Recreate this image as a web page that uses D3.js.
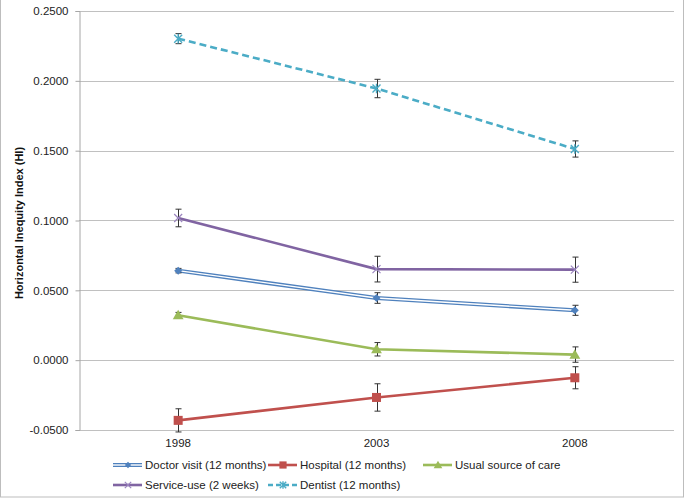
<!DOCTYPE html>
<html>
<head>
<meta charset="utf-8">
<script src="https://cdn.jsdelivr.net/npm/d3@7"></script>
<style>
  body { margin: 0; background: #fff; }
  svg { font-family: "Liberation Sans", Arial, sans-serif; }
</style>
</head>
<body>
<div id="chart"></div>
<script>
// data
const years = ['1998', '2003', '2008']
const yTicks = [-0.05, 0, 0.05, 0.1, 0.15, 0.2, 0.25]

const doctorVals = [0.0641, 0.0445, 0.0357]
const doctorErr = [0.0016, 0.0038, 0.0036]
const hospitalVals = [-0.0431, -0.0267, -0.0126]
const hospitalErr = [0.0083, 0.0098, 0.0079]
const usualVals = [0.0322, 0.0078, 0.0040]
const usualErr = [0.0020, 0.0048, 0.0055]
const serviceVals = [0.1018, 0.0652, 0.0648]
const serviceErr = [0.0063, 0.0092, 0.0090]
const dentistVals = [0.2302, 0.1945, 0.1512]
const dentistErr = [0.0036, 0.0066, 0.0058]

const seriesNames = ['Doctor visit (12 months)', 'Hospital (12 months)', 'Usual source of care',
	'Service-use (2 weeks)', 'Dentist (12 months)']

const series = [
	{name: seriesNames[0], vals: doctorVals, err: doctorErr, color: '#4F81BD', marker: 'diamond', double: true},
	{name: seriesNames[1], vals: hospitalVals, err: hospitalErr, color: '#C0504D', marker: 'square'},
	{name: seriesNames[2], vals: usualVals, err: usualErr, color: '#9BBB59', marker: 'triangle'},
	{name: seriesNames[3], vals: serviceVals, err: serviceErr, color: '#8064A2', marker: 'x'},
	{name: seriesNames[4], vals: dentistVals, err: dentistErr, color: '#4BACC6', marker: 'star', dash: '7,4'}
]

const W = 685, H = 500
const margin = {top: 11, right: 11, bottom: 70, left: 79}
const width = W - margin.left - margin.right
const height = H - margin.top - margin.bottom
const fs = 11.5

const svg = d3.select('#chart').append('svg')
	.attr('width', W)
	.attr('height', H)

// outer chart frame
svg.append('rect')
	.attr('x', 0.5).attr('y', -2)
	.attr('width', 683).attr('height', 499)
	.attr('fill', 'none')
	.attr('stroke', '#BDBDBD')

const g = svg.append('g')
	.attr('transform', `translate(${margin.left},${margin.top})`)

const x = d3.scaleBand().domain(years).range([0, width]).padding(0)
const y = d3.scaleLinear().domain([-0.05, 0.25]).range([height, 0])
const cx = d => x(d) + x.bandwidth() / 2

// gridlines
g.append('g')
	.selectAll('line')
	.data(yTicks)
	.join('line')
		.attr('x1', 0).attr('x2', width)
		.attr('y1', d => Math.round(y(d)) + 0.5)
		.attr('y2', d => Math.round(y(d)) + 0.5)
		.attr('stroke', '#C0C0C0')

// y axis
const yAxis = g.append('g')
	.attr('transform', 'translate(0.5,0)')
	.call(d3.axisLeft(y).tickValues(yTicks).tickFormat(d3.format('.4f')).tickSize(4).tickPadding(7))
yAxis.select('.domain').attr('stroke', '#A6A6A6')
yAxis.selectAll('.tick line').attr('stroke', '#A6A6A6')
yAxis.selectAll('.tick text')
	.attr('font-size', fs)
	.attr('fill', '#222')
	.text(d => d3.format('.4f')(d).replace('−', '-'))

// x labels
g.append('g')
	.selectAll('text')
	.data(years)
	.join('text')
		.attr('x', d => cx(d))
		.attr('y', height + 17)
		.attr('text-anchor', 'middle')
		.attr('font-size', fs)
		.attr('fill', '#222')
		.text(d => d)

// y title
svg.append('text')
	.attr('transform', 'translate(23,223) rotate(-90)')
	.attr('text-anchor', 'middle')
	.attr('font-size', 11)
	.attr('font-weight', 'bold')
	.attr('fill', '#111')
	.text('Horizontal Inequity Index (HI)')

function drawMarker (sel, type, color, size) {
	const s = size
	if (type === 'diamond') {
		sel.append('path').attr('d', `M0,${-s}L${s},0L0,${s}L${-s},0Z`).attr('fill', color)
	} else if (type === 'square') {
		sel.append('rect').attr('x', -s).attr('y', -s).attr('width', 2 * s).attr('height', 2 * s).attr('fill', color)
	} else if (type === 'triangle') {
		sel.append('path').attr('d', `M0,${-s * 1.2}L${s * 1.2},${s * 0.9}L${-s * 1.2},${s * 0.9}Z`).attr('fill', color)
	} else if (type === 'x') {
		sel.append('path').attr('d', `M${-s},${-s}L${s},${s}M${-s},${s}L${s},${-s}`)
			.attr('stroke', '#9C86C0').attr('stroke-width', 1.2).attr('fill', 'none')
	} else if (type === 'star') {
		sel.append('path').attr('d', `M${-s},${-s}L${s},${s}M${-s},${s}L${s},${-s}M0,${-s * 1.2}L0,${s * 1.2}`)
			.attr('stroke', color).attr('stroke-width', 1.4).attr('fill', 'none')
	}
}

const msize = {diamond: 4, square: 4.5, triangle: 4.5, x: 4, star: 4}

const line = d3.line()
	.x((d, i) => cx(years[i]))
	.y(d => y(d))

series.forEach(s => {
	const sg = g.append('g')
	if (s.double) {
		sg.append('path').attr('d', line(s.vals)).attr('fill', 'none')
			.attr('stroke', s.color).attr('stroke-width', 4)
		sg.append('path').attr('d', line(s.vals)).attr('fill', 'none')
			.attr('stroke', '#fff').attr('stroke-width', 1.4)
	} else {
		sg.append('path').attr('d', line(s.vals)).attr('fill', 'none')
			.attr('stroke', s.color).attr('stroke-width', 2.6)
			.attr('stroke-dasharray', s.dash || null)
	}
	// error bars
	s.vals.forEach((v, i) => {
		const px = Math.round(cx(years[i])) + 0.5
		const eg = sg.append('g').attr('stroke', '#333').attr('stroke-width', 1)
		eg.append('line').attr('x1', px).attr('x2', px).attr('y1', y(v + s.err[i])).attr('y2', y(v - s.err[i]))
		eg.append('line').attr('x1', px - 3).attr('x2', px + 3).attr('y1', y(v + s.err[i])).attr('y2', y(v + s.err[i]))
		eg.append('line').attr('x1', px - 3).attr('x2', px + 3).attr('y1', y(v - s.err[i])).attr('y2', y(v - s.err[i]))
	})
	s.vals.forEach((v, i) => {
		const mg = sg.append('g').attr('transform', `translate(${cx(years[i])},${y(v)})`)
		drawMarker(mg, s.marker, s.color, msize[s.marker])
	})
})

// legend
const legendPos = [
	{x: 113, y: 465}, {x: 268, y: 465}, {x: 423, y: 465},
	{x: 113, y: 485}, {x: 268, y: 485}
]
const legend = svg.append('g')
series.forEach((s, i) => {
	const p = legendPos[i]
	const lg = legend.append('g').attr('transform', `translate(${p.x},${p.y})`)
	if (s.double) {
		lg.append('line').attr('x1', 0).attr('x2', 29).attr('stroke', s.color).attr('stroke-width', 4)
		lg.append('line').attr('x1', 0).attr('x2', 29).attr('stroke', '#fff').attr('stroke-width', 1.4)
	} else {
		lg.append('line').attr('x1', 0).attr('x2', 29).attr('stroke', s.color).attr('stroke-width', 2.6)
			.attr('stroke-dasharray', s.dash ? '5,3' : null)
	}
	const mg = lg.append('g').attr('transform', 'translate(15,0)')
	drawMarker(mg, s.marker, s.color, msize[s.marker] * 0.8)
	lg.append('text')
		.attr('x', 32).attr('y', 0).attr('dy', '0.35em')
		.attr('font-size', fs)
		.attr('fill', '#222')
		.text(s.name)
})
</script>
</body>
</html>
